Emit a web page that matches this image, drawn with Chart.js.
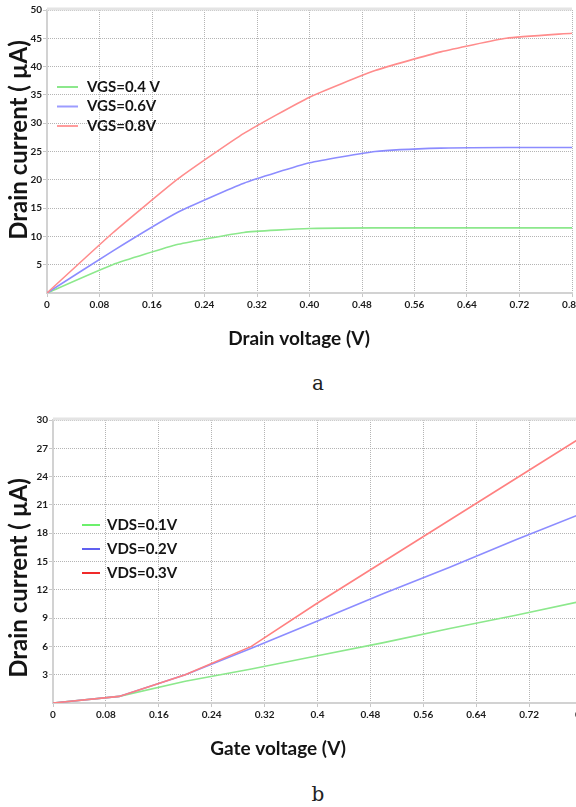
<!DOCTYPE html>
<html>
<head>
<meta charset="utf-8">
<script src="https://cdn.jsdelivr.net/npm/chart.js@4.4.1/dist/chart.umd.min.js"></script>
<style>
  html, body { margin: 0; padding: 0; background: #fff; overflow: hidden; }
  body { width: 576px; height: 807px; position: relative; }
  .box { position: absolute; left: 0; width: 576px; overflow: hidden; }
  .cap { position: absolute; font-family: 'DejaVu Serif', 'Liberation Serif', serif; font-size: 20px; color: #222; transform: translate(-50%, -50%); }
</style>
</head>
<body>
<div class="box" style="top:0;height:360px"><canvas id="chartA" width="600" height="360"></canvas></div>
<div class="cap" style="left:318px;top:383px">a</div>
<div class="box" style="top:410px;height:360px"><canvas id="chartB" width="620" height="360"></canvas></div>
<div class="cap" style="left:318px;top:794px">b</div>
<script>
// chart a: drain current vs drain voltage
const vdsA = [0, 0.1, 0.2, 0.3, 0.4, 0.5, 0.6, 0.7, 0.8];
const idVgs04 = [0, 5.0, 8.6, 10.7, 11.4, 11.5, 11.5, 11.5, 11.5];
const idVgs06 = [0, 7.4, 14.3, 19.4, 23.0, 25.0, 25.6, 25.7, 25.7];
const idVgs08 = [0, 10.6, 20.2, 28.2, 34.6, 39.3, 42.6, 45.0, 45.9];
const xTicksA = [0, 0.08, 0.16, 0.24, 0.32, 0.40, 0.48, 0.56, 0.64, 0.72, 0.80];
const xLabelsA = ["0", "0.08", "0.16", "0.24", "0.32", "0.40", "0.48", "0.56", "0.64", "0.72", "0.80"];
const yTicksA = [5, 10, 15, 20, 25, 30, 35, 40, 45, 50];

// chart b: drain current vs gate voltage
const vgsB = [0, 0.1, 0.2, 0.3, 0.4, 0.5, 0.6, 0.7, 0.8];
const idVds01 = [0, 0.7, 2.3, 3.6, 5.0, 6.4, 7.9, 9.3, 10.8];
const idVds02 = [0, 0.7, 3.0, 5.8, 8.7, 11.6, 14.4, 17.3, 20.1];
const idVds03 = [0, 0.7, 3.0, 6.0, 10.6, 15.0, 19.4, 23.8, 28.2];
const xTicksB = [0, 0.08, 0.16, 0.24, 0.32, 0.4, 0.48, 0.56, 0.64, 0.72, 0.8];
const xLabelsB = ["0", "0.08", "0.16", "0.24", "0.32", "0.4", "0.48", "0.56", "0.64", "0.72", "0.8"];
const yTicksB = [3, 6, 9, 12, 15, 18, 21, 24, 27, 30];

const FONT = "Lato, 'Open Sans', sans-serif";

function pts(xs, ys) {
    return xs.map(function (x, i) { return { x: x, y: ys[i] }; });
}

// legend inside plot, axis titles, top frame
const decor = {
    id: "decor",
    beforeDatasetsDraw: function (chart) {
        const a = chart.chartArea;
        const ctx = chart.ctx;
        ctx.save();
        ctx.strokeStyle = "#e4e4e4";
        ctx.lineWidth = 3;
        ctx.beginPath();
        ctx.moveTo(a.left, a.top - 1);
        ctx.lineTo(a.right, a.top - 1);
        ctx.stroke();
        ctx.restore();
    },
    afterDraw: function (chart, args, opts) {
        const ctx = chart.ctx;
        ctx.save();
        // legend
        const lg = opts.legend;
        ctx.font = "bold " + lg.size + "px " + FONT;
        ctx.textBaseline = "middle";
        ctx.textAlign = "left";
        lg.order.forEach(function (di, k) {
            const ds = chart.data.datasets[di];
            const y = lg.y + k * lg.gap;
            ctx.strokeStyle = ds.legendColor;
            ctx.lineWidth = 2;
            ctx.beginPath();
            ctx.moveTo(lg.x, y);
            ctx.lineTo(lg.x + lg.len, y);
            ctx.stroke();
            ctx.fillStyle = "#141414";
            ctx.fillText(ds.label, lg.textX, y);
        });
        // axis titles
        ctx.fillStyle = "#141414";
        ctx.textAlign = "center";
        ctx.font = "bold " + opts.xTitle.size + "px " + FONT;
        ctx.fillText(opts.xTitle.text, opts.xTitle.x, opts.xTitle.y);
        ctx.translate(opts.yTitle.x, opts.yTitle.y);
        ctx.rotate(-Math.PI / 2);
        ctx.font = "bold " + opts.yTitle.size + "px " + FONT;
        ctx.fillText(opts.yTitle.text, 0, 0);
        ctx.restore();
    }
};

function makeChart(id, cfg) {
    const lineDs = function (label, xs, ys, color, legendColor, order) {
        return {
            label: label,
            data: pts(xs, ys),
            borderColor: color,
            legendColor: legendColor,
            borderWidth: 1.6,
            pointRadius: 0,
            tension: cfg.tension,
            fill: false,
            order: order
        };
    };
    return new Chart(document.getElementById(id), {
        type: "line",
        data: {
            datasets: cfg.series.map(function (s) {
                return lineDs(s.label, cfg.xs, s.ys, s.color, s.legendColor, s.order);
            })
        },
        options: {
            responsive: false,
            animation: false,
            layout: { padding: { top: 10, left: 0, right: cfg.padRight, bottom: 0 } },
            plugins: {
                legend: { display: false },
                tooltip: { enabled: false },
                decor: cfg.decor
            },
            scales: {
                x: {
                    type: "linear",
                    min: 0,
                    max: cfg.xMax,
                    afterFit: function (s) { s.height = 67; },
                    afterBuildTicks: function (s) {
                        s.ticks = cfg.xTicks.map(function (v) { return { value: v }; });
                    },
                    ticks: {
                        autoSkip: false,
                        maxRotation: 0,
                        padding: 2,
                        color: "#1c1c1c",
                        font: { family: FONT, size: 10, weight: "bold" },
                        callback: function (v, i) { return cfg.xLabels[i]; }
                    },
                    grid: { color: "#b4b4b4", tickLength: 4, tickColor: "#c8c8c8" },
                    border: { color: "#d2d2d2", width: 2, dash: [1, 1] }
                },
                y: {
                    min: 0,
                    max: cfg.yMax,
                    afterFit: function (s) { s.width = cfg.yWidth; },
                    afterBuildTicks: function (s) {
                        s.ticks = cfg.yTicks.map(function (v) { return { value: v }; });
                    },
                    ticks: {
                        padding: 1,
                        color: "#1c1c1c",
                        font: { family: FONT, size: 10, weight: "bold" }
                    },
                    grid: { color: "#b4b4b4", tickLength: 4, tickColor: "#c8c8c8" },
                    border: { color: "#d2d2d2", width: 2, dash: [1, 1] }
                }
            }
        },
        plugins: [decor]
    });
}

makeChart("chartA", {
    xs: vdsA,
    xMax: 0.8,
    yMax: 50,
    xTicks: xTicksA,
    xLabels: xLabelsA,
    yTicks: yTicksA,
    yWidth: 47,
    padRight: 28,
    tension: 0.15,
    series: [
        { label: "VGS=0.4 V", ys: idVgs04, color: "#8ce88c", legendColor: "#8ce88c", order: 3 },
        { label: "VGS=0.6V", ys: idVgs06, color: "#8c8cff", legendColor: "#9c9cff", order: 2 },
        { label: "VGS=0.8V", ys: idVgs08, color: "#ff8c8c", legendColor: "#ff9c9c", order: 1 }
    ],
    decor: {
        legend: { x: 57, len: 21, textX: 87, y: 87, gap: 19.5, size: 15, order: [0, 1, 2] },
        xTitle: { text: "Drain voltage (V)", x: 299, y: 339, size: 19 },
        yTitle: { text: "Drain current ( µA)", x: 19, y: 140, size: 24 }
    }
});

makeChart("chartB", {
    xs: vgsB,
    xMax: 0.8,
    yMax: 30,
    xTicks: xTicksB,
    xLabels: xLabelsB,
    yTicks: yTicksB,
    yWidth: 53,
    padRight: 38,
    tension: 0,
    series: [
        { label: "VDS=0.1V", ys: idVds01, color: "#8ce88c", legendColor: "#6cf06c", order: 3 },
        { label: "VDS=0.2V", ys: idVds02, color: "#8c8cff", legendColor: "#6060f0", order: 2 },
        { label: "VDS=0.3V", ys: idVds03, color: "#ff8080", legendColor: "#f02a2a", order: 1 }
    ],
    decor: {
        legend: { x: 82, len: 18, textX: 107, y: 115, gap: 24, size: 15, order: [0, 1, 2] },
        xTitle: { text: "Gate voltage (V)", x: 278, y: 339, size: 19 },
        yTitle: { text: "Drain current ( µA)", x: 19, y: 168, size: 24 }
    }
});
</script>
</body>
</html>
